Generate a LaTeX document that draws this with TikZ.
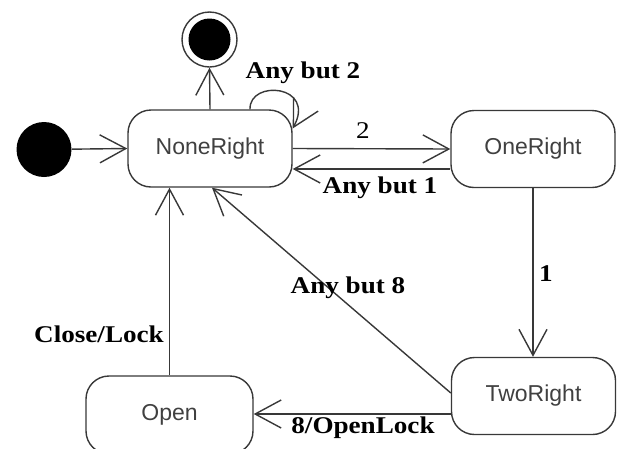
\documentclass[tikz,border=0pt]{standalone}
\usepackage{fontspec}
\setmainfont{Liberation Serif}
\newfontfamily\statefont{Liberation Sans}
\newfontfamily\lblfont{Liberation Serif}[FakeStretch=1.13]
\usetikzlibrary{arrows.meta}

\definecolor{ink}{rgb}{0.22,0.22,0.22}
\definecolor{statetext}{rgb}{0.25,0.25,0.25}

\tikzset{
  statebox/.style={draw=ink, rounded corners=23pt, minimum width=164pt,
    minimum height=77pt, inner sep=0pt, text=statetext,
    font=\statefont\fontsize{23}{25}\selectfont},
  trans/.style={draw=ink, -{Straight Barb[length=26pt,width=28pt,line width=1.4pt]}},
  lbl/.style={font=\lblfont\bfseries\fontsize{24}{26}\selectfont, text=black, inner sep=0pt},
}

\begin{document}
\begin{tikzpicture}[x=1pt, y=-1pt, line width=1.4pt]
  \useasboundingbox (0,0) rectangle (619,448);

  % states
  \node[statebox] (nr) at (210,148.5) {NoneRight};
  \node[statebox] (or) at (533,149) {OneRight};
  \node[statebox] (tr) at (533.5,396) {TwoRight};
  \node[statebox, minimum width=167pt, minimum height=78pt] (op) at (169.5,415) {Open};

  % pseudo states
  \node[circle, fill=black, minimum size=55pt, inner sep=0pt] (init) at (44,149.5) {};
  \node[circle, draw=ink, minimum size=55pt, inner sep=0pt] (fin) at (209.5,39.5) {};
  \fill[black] (fin.center) circle[radius=21pt];

  % transitions
  \draw[trans] (init) -- (nr.west);
  \draw[trans] (nr.north) -- (fin.south);
  \coordinate (loopA) at ([xshift=40pt]nr.north);
  \coordinate (loopB) at ([yshift=20pt]nr.east);
  \draw[trans] (loopA) .. controls +(-1,-30) and +(24,-44) .. (loopB);

  \draw[trans] (nr.east) -- (or.west);
  \coordinate (backA) at ([yshift=-20pt]or.west);
  \draw[trans] (backA) -- (backA -| nr.east);

  \draw[trans] (or.south) -- (or.south |- tr.north);

  \coordinate (eightA) at ([yshift=3pt]tr.west);
  \draw[trans] (eightA) -- ([xshift=2pt]nr.south);

  \coordinate (openA) at ([yshift=-18pt]tr.west);
  \draw[trans] (openA) -- (openA -| op.east);

  \draw[trans] (op.north) -- (op.north |- nr.south);

  % labels
  \node[lbl] (l0) at (303,73) {Any but 2};
  \node[lbl, font=\lblfont\fontsize{24}{26}\selectfont] (l1) at (363,131) {2};
  \node[lbl] (l2) at (380,188) {Any but 1};
  \node[lbl] (l3) at (546,274) {1};
  \node[lbl] (l4) at (348,288) {Any but 8};
  \node[lbl] (l5) at (363,428) {8/OpenLock};
  \node[lbl] (l6) at (99,334) {Close/Lock};
\end{tikzpicture}
\end{document}
